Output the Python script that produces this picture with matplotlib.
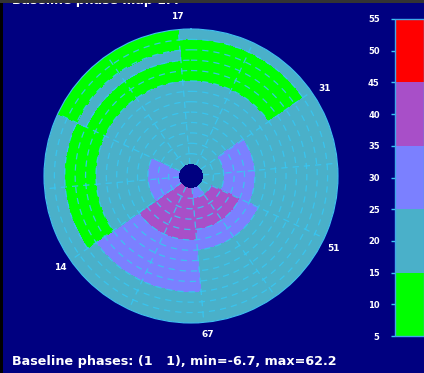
import numpy as np
import matplotlib
matplotlib.use("Agg")
import matplotlib.pyplot as plt
from matplotlib.colors import ListedColormap, BoundaryNorm
from matplotlib.patches import Rectangle

# ring edges (radius units) and sector edges (deg, clockwise from north)
ring_edges = [12, 22.4, 32.8, 43.2, 53.6, 64, 74.4, 84.8, 95.2, 105.6, 116, 126.4, 136.8, 147.2]
sector_edges = [-5, 25, 55, 85, 115, 145, 175, 205, 235, 265, 295, 325, 355]

# phase per ring (inner -> outer) for each sector
sec0 = [20, 20, 20, 20, 20, 20, 20, 20, 10, 10, 10, 10, 20]
sec1 = [20, 20, 20, 20, 20, 20, 20, 20, 10, 10, 10, 10, 20]
sec2 = [20, 20, 30, 30, 30, 20, 20, 20, 20, 20, 20, 20, 20]
sec3 = [20, 20, 30, 30, 30, 20, 20, 20, 20, 20, 20, 20, 20]
sec4 = [20, 40, 40, 40, 30, 30, 20, 20, 20, 20, 20, 20, 20]
sec5 = [30, 40, 40, 40, 30, 30, 20, 20, 20, 20, 20, 20, 20]
sec6 = [40, 40, 40, 40, 40, 30, 30, 30, 30, 30, 20, 20, 20]
sec7 = [40, 40, 40, 40, 40, 30, 30, 30, 30, 30, 20, 20, 20]
sec8 = [30, 30, 30, 20, 20, 20, 20, 20, 10, 10, 10, 20, 20]
sec9 = [30, 30, 30, 20, 20, 20, 20, 20, 10, 10, 10, 20, 20]
sec10 = [20, 20, 20, 20, 20, 20, 20, 20, 10, 10, 20, 10, 10]
sec11 = [20, 20, 20, 20, 20, 20, 20, 20, 10, 10, 20, 10, 10]

levels = [5, 15, 25, 35, 45, 55]
cbar_ticks = [5, 10, 15, 20, 25, 30, 35, 40, 45, 50, 55]
level_colors = ["#00ff00", "#4ab0c9", "#7b80ff", "#a84fc8", "#ff0000"]

ant_labels = ["17", "31", "51", "67", "14"]
ant_angles = [-5, 57, 117, 174, 235]
ant_radius = 160

title = "Baseline phase map 1.4"
caption = "Baseline phases: (1   1), min=-6.7, max=62.2"

navy = "#000080"
dash_col = "#38c6f2"

fig = plt.figure(figsize=(4.24, 3.73), dpi=100, facecolor=navy)

ax = fig.add_axes([44 / 424, 50 / 373, 294 / 424, 294 / 373], projection="polar")
ax.set_facecolor(navy)
ax.set_theta_zero_location("N")
ax.set_theta_direction(-1)

grid = np.array([sec0, sec1, sec2, sec3, sec4, sec5,
                 sec6, sec7, sec8, sec9, sec10, sec11]).T

# split every sector into small steps so the cells follow the arcs
nsub = 30
theta = np.deg2rad(sector_edges)
theta_fine = np.concatenate([np.linspace(theta[i], theta[i + 1], nsub, endpoint=False)
                             for i in range(len(theta) - 1)] + [theta[-1:]])
grid_fine = np.repeat(grid, nsub, axis=1)
T, R = np.meshgrid(theta_fine, ring_edges)

cmap = ListedColormap(level_colors)
norm = BoundaryNorm(levels, cmap.N)
mesh = ax.pcolormesh(T, R, grid_fine, cmap=cmap, norm=norm, shading="flat",
                     antialiased=False, edgecolors="none")

# dashed cell boundaries
tt = np.linspace(0, 2 * np.pi, 721)
for r in ring_edges[1:-1]:
    ax.plot(tt, np.full_like(tt, r), color=dash_col, lw=0.9, ls=(0, (5, 4)), alpha=0.9)
for a in theta[:-1]:
    ax.plot([a, a], [ring_edges[0], ring_edges[-1]], color=dash_col, lw=0.9,
            ls=(0, (5, 4)), alpha=0.9)

ax.set_xlim(0, 2 * np.pi)
ax.set_ylim(0, ring_edges[-1])
ax.grid(False)
ax.set_xticks([])
ax.set_yticks([])
ax.spines["polar"].set_color("#3fbff0")
ax.spines["polar"].set_linewidth(0.8)

for lab, ang in zip(ant_labels, ant_angles):
    ax.text(np.deg2rad(ang), ant_radius, lab, color="white", fontsize=6.5,
            fontweight="bold", ha="center", va="center", clip_on=False)

# colour bar
cax = fig.add_axes([395 / 424, (373 - 336) / 373, 29 / 424, 317 / 373])
cb = fig.colorbar(mesh, cax=cax, ticks=cbar_ticks)
cb.outline.set_edgecolor("#3fa8e8")
cb.outline.set_linewidth(1)
cax.yaxis.set_ticks_position("left")
cax.tick_params(axis="y", colors=dash_col, labelcolor="white", labelsize=6,
                length=3, width=1, pad=8)
for t in cax.get_yticklabels():
    t.set_fontweight("bold")

fig.text(12 / 424, (373 - 362) / 373, caption, color="white",
         fontsize=9.2, fontweight="bold", ha="left", va="center")
# title sits mostly above the top edge, as in the screen grab
fig.text(12 / 424, 1.0 - 4 / 373, title, color="white", fontsize=9, fontweight="bold",
         ha="left", va="baseline")

fig.patches.append(Rectangle((0, 0), 3 / 424, 1, transform=fig.transFigure,
                             facecolor="black", edgecolor="none", zorder=10))
fig.patches.append(Rectangle((0, 1 - 3 / 373), 1, 3 / 373, transform=fig.transFigure,
                             facecolor="#333333", edgecolor="none", zorder=10))

fig.savefig("out.png", dpi=100, facecolor=navy)
